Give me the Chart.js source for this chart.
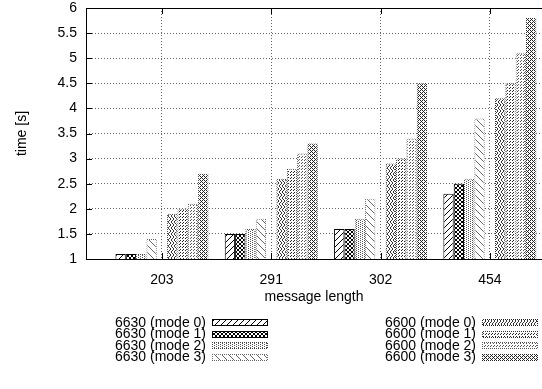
<!DOCTYPE html>
<html>
<head>
<meta charset="utf-8">
<script src="https://cdn.jsdelivr.net/npm/chart.js@4/dist/chart.umd.min.js"></script>
<style>
  html, body { margin: 0; padding: 0; background: #fff; }
  #wrap { width: 542px; height: 389px; }
</style>
</head>
<body>
<div id="wrap"><canvas id="timeChart"></canvas></div>
<script>
// message length groups on the x axis
const categories = ['203', '291', '302', '454'];

// time [s] per series, one value per message length
const m6630_0 = [1.1, 1.5, 1.6, 2.3];
const m6630_1 = [1.1, 1.5, 1.6, 2.5];
const m6630_2 = [1.1, 1.6, 1.8, 2.6];
const m6630_3 = [1.4, 1.8, 2.2, 3.8];
const m6600_0 = [1.9, 2.6, 2.9, 4.2];
const m6600_1 = [2.0, 2.8, 3.0, 4.5];
const m6600_2 = [2.1, 3.1, 3.4, 5.1];
const m6600_3 = [2.7, 3.3, 4.5, 5.8];

const labels6630 = ['6630 (mode 0)', '6630 (mode 1)', '6630 (mode 2)', '6630 (mode 3)'];
const labels6600 = ['6600 (mode 0)', '6600 (mode 1)', '6600 (mode 2)', '6600 (mode 3)'];

const yTicks = [1, 1.5, 2, 2.5, 3, 3.5, 4, 4.5, 5, 5.5, 6];

const FONT = '"Liberation Sans", Arial, sans-serif';

// small pixel tiles -> canvas patterns (gnuplot style fills)
function pixelPattern(rows, color) {
    const h = rows.length, w = rows[0].length;
    const c = document.createElement('canvas');
    c.width = w; c.height = h;
    const g = c.getContext('2d');
    g.fillStyle = '#fff';
    g.fillRect(0, 0, w, h);
    g.fillStyle = color;
    rows.forEach((r, y) => {
        for (let x = 0; x < w; x++) if (r[x] === '#') g.fillRect(x, y, 1, 1);
    });
    return g.createPattern(c, 'repeat');
}

const dotted = (color) => pixelPattern(['#.', '.#'], color);

const fills = [
    pixelPattern(['.....#', '....#.', '...#..', '..#...', '.#....', '#.....'], '#000'),
    pixelPattern(['#..#', '.##.', '.##.', '#..#'], '#000'),
    pixelPattern(['#...', '..#.'], '#555'),
    pixelPattern(['#......', '.#.....', '..#....', '...#...', '....#..', '.....#.', '......#'], '#666'),
    pixelPattern(['#..#..', '.#..#.', '..#..#', '..#..#', '.#..#.', '#..#..'], '#333'),
    pixelPattern(['#..#..', '..#..#', '......', '#..#..', '..#..#', '......'], '#222'),
    pixelPattern(['..#', '.#.', '...'], '#555'),
    pixelPattern(['#.#.', '.#..', '#.#.', '...#'], '#222')
];
const borders = ['#000', '#000', dotted('#444'), dotted('#666'),
                 dotted('#222'), dotted('#333'), dotted('#555'), dotted('#222')];

const series = [m6630_0, m6630_1, m6630_2, m6630_3, m6600_0, m6600_1, m6600_2, m6600_3];
const seriesLabels = labels6630.concat(labels6600);

const datasets = series.map((vals, i) => ({
    label: seriesLabels[i],
    data: vals.map((v, k) => ({ x: k, y: v })),
    backgroundColor: fills[i],
    borderColor: borders[i],
    borderWidth: 1,
    borderSkipped: false
}));
// empty slot between the two board families
datasets.splice(4, 0, { label: '', data: categories.map((c, k) => ({ x: k, y: null })) });

const frame = {
    id: 'frame',
    afterDraw(chart) {
        const { ctx, chartArea: a, scales } = chart;
        ctx.save();
        ctx.strokeStyle = '#000';
        ctx.lineWidth = 1;
        ctx.beginPath();
        ctx.moveTo(a.right, a.top + 0.5); ctx.lineTo(a.left + 0.5, a.top + 0.5);
        ctx.lineTo(a.left + 0.5, a.bottom + 0.5); ctx.lineTo(a.right, a.bottom + 0.5);
        yTicks.forEach(v => {
            const y = Math.round(scales.y.getPixelForValue(v)) + 0.5;
            ctx.moveTo(a.left, y); ctx.lineTo(a.left + 6, y);
        });
        categories.forEach((c, k) => {
            const x = Math.round(scales.x.getPixelForValue(k)) + 0.5;
            ctx.moveTo(x, a.bottom); ctx.lineTo(x, a.bottom - 6);
            ctx.moveTo(x, a.top); ctx.lineTo(x, a.top + 6);
        });
        ctx.stroke();

        // key: two columns, text right aligned, sample box on the right
        ctx.font = '14px ' + FONT;
        ctx.textAlign = 'right';
        ctx.textBaseline = 'middle';
        ctx.fillStyle = '#000';
        [[labels6630, 0, 206], [labels6600, 4, 476]].forEach(([labs, off, tx]) => {
            labs.forEach((lab, i) => {
                const y = 323 + i * 11.5;
                ctx.fillStyle = '#000';
                ctx.fillText(lab, tx, y);
                const bx = tx + 6, by = Math.round(y - 4), bw = 56, bh = 7;
                ctx.fillStyle = borders[off + i];
                ctx.fillRect(bx, by, bw, bh);
                ctx.fillStyle = fills[off + i];
                ctx.fillRect(bx + 1, by + 1, bw - 2, bh - 2);
            });
        });
        ctx.restore();
    }
};

new Chart(document.getElementById('timeChart'), {
    type: 'bar',
    data: { datasets },
    options: {
        responsive: true,
        maintainAspectRatio: false,
        animation: false,
        layout: { padding: { top: 8, right: 0, bottom: 80, left: 0 } },
        datasets: { bar: { categoryPercentage: 0.851, barPercentage: 1 } },
        plugins: { legend: { display: false }, tooltip: { enabled: false } },
        scales: {
            x: {
                type: 'linear',
                min: -0.695,
                max: 3.477,
                offset: false,
                afterFit: (s) => { s.height = 50; s.paddingLeft = 0; s.paddingRight = 0; },
                afterBuildTicks: (s) => { s.ticks = categories.map((c, k) => ({ value: k })); },
                grid: { offset: false, color: '#666', drawTicks: false },
                border: { display: false, dash: [1, 2] },
                ticks: {
                    padding: 13,
                    color: '#000',
                    font: { family: FONT, size: 14 },
                    callback: (v) => categories[v]
                },
                title: {
                    display: true,
                    text: 'message length',
                    color: '#000',
                    font: { family: FONT, size: 14 },
                    padding: { top: 0, bottom: 3 }
                }
            },
            y: {
                min: 1,
                max: 6,
                beginAtZero: false,
                afterFit: (s) => { s.width = 86; s.paddingTop = 0; s.paddingBottom = 0; },
                afterBuildTicks: (s) => { s.ticks = yTicks.map(v => ({ value: v })); },
                grid: { color: '#666', drawTicks: false },
                border: { display: false, dash: [1, 2] },
                ticks: {
                    padding: 9,
                    color: '#000',
                    font: { family: FONT, size: 14 },
                    callback: (v) => String(v)
                },
                title: {
                    display: true,
                    text: 'time [s]',
                    color: '#000',
                    font: { family: FONT, size: 14 },
                    padding: { top: 14, bottom: 0 }
                }
            }
        }
    },
    plugins: [frame]
});
</script>
</body>
</html>
